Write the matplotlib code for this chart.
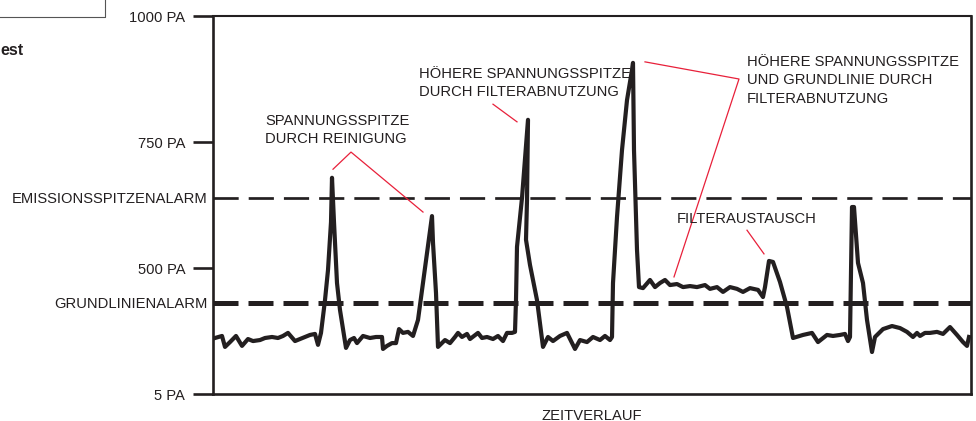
import matplotlib.pyplot as plt
import numpy as np
from matplotlib.lines import Line2D

plt.rcParams['font.family'] = ['Liberation Sans', 'DejaVu Sans']

# --- data -------------------------------------------------------------
pa_ticks = [5, 500, 750, 1000]
pa_labels = ['5 PA', '500 PA', '750 PA', '1000 PA']
alarm_levels = [639, 363]
alarm_labels = ['EMISSIONSSPITZENALARM', 'GRUNDLINIENALARM']

# pressure trace (time units, PA)
t = [2, 9, 12, 17, 23, 29, 35, 40, 47, 52, 59, 65, 70, 75, 82, 87, 97, 102, 105, 108,
     112, 115, 118, 119, 121, 124, 127, 133, 137, 141, 144, 150, 157, 163, 169, 170, 174,
     179, 183, 186, 190, 195, 200, 205, 210, 215, 219, 220, 223, 225, 232, 237, 242, 245,
     249, 254, 257, 261, 265, 269, 274, 280, 285, 290, 294, 299, 302, 303, 304, 309, 315,
     314, 313, 317, 324, 330, 335, 340, 347, 354, 362, 367, 374, 380, 387, 392, 397, 399,
     400, 404, 409, 414, 419, 420, 421, 424, 426, 430, 437, 442, 447, 452, 457, 464, 470,
     477, 484, 492, 497, 504, 510, 517, 524, 530, 537, 545, 550, 552, 556, 560, 567, 574,
     580, 590, 599, 605, 614, 620, 627, 632, 635, 637, 639, 641, 645, 650, 654, 659, 662,
     670, 679, 687, 694, 700, 704, 707, 712, 717, 724, 730, 737, 744, 750, 754, 756]
pa = [225, 233, 190, 209, 233, 194, 221, 213, 217, 225, 229, 225, 233, 245, 213, 221, 237, 241, 198, 245,
      374, 492, 591, 679, 591, 441, 335, 186, 217, 225, 205, 233, 225, 229, 229, 182, 194,
      205, 205, 260, 245, 249, 233, 296, 441, 542, 603, 550, 402, 190, 217, 205, 229, 245,
      229, 241, 221, 233, 245, 225, 229, 221, 233, 213, 245, 245, 249, 374, 542, 639, 794,
      635, 556, 506, 374, 190, 229, 213, 233, 245, 182, 217, 209, 229, 217, 233, 217, 229,
      441, 601, 734, 833, 893, 907, 734, 536, 425, 421, 453, 425, 441, 453, 433, 437, 425,
      429, 425, 433, 418, 425, 406, 425, 418, 406, 421, 414, 386, 425, 514, 512, 445, 347,
      225, 237, 245, 209, 237, 233, 237, 241, 213, 229, 621, 621, 510, 441, 296, 170, 229,
      260, 272, 264, 249, 229, 245, 233, 245, 245, 249, 241, 268, 237, 209, 194, 229]

# annotations: text, text anchor (t, PA), pointer polylines
notes = ['SPANNUNGSSPITZE\nDURCH REINIGUNG',
         'HÖHERE SPANNUNGSSPITZE\nDURCH FILTERABNUTZUNG',
         'HÖHERE SPANNUNGSSPITZE\nUND GRUNDLINIE DURCH\nFILTERABNUTZUNG',
         'FILTERAUSTAUSCH']
note_pos = [(52, 806), (206, 899), (534, 923), (464, 611)]
pointers = [([120, 138, 210], [696, 730, 611]),
            ([280, 304], [825, 790]),
            ([432, 526, 461], [909, 875, 465]),
            ([534, 551], [575, 528])]

ink = '#231f20'
red = '#e8203a'
fs = 10.6

fig = plt.figure(figsize=(9.76, 4.21), dpi=100)
ax = fig.add_axes([213 / 976, 27 / 421, 758 / 976, 378 / 421])

pos = [0, 1, 2, 3]
ax.set_yscale('function', functions=(lambda v: np.interp(v, pa_ticks, pos),
                                     lambda p: np.interp(p, pos, pa_ticks)))
ax.set_ylim(5, 1000)
ax.set_xlim(0, 758)

# alarm lines
ax.axhline(alarm_levels[0], color=ink, lw=1.95, dashes=(9.3, 3.7))
ax.axhline(alarm_levels[1], color=ink, lw=3.6, dashes=(5.0, 2.0))

# trace
ax.plot(t, pa, color=ink, lw=3.0, solid_joinstyle='round')

# annotations
for txt, (x, y) in zip(notes, note_pos):
    ax.text(x, y, txt, fontsize=fs, color=ink, va='top', ha='left', linespacing=1.4)
for xs, ys in pointers:
    ax.plot(xs, ys, color=red, lw=0.9)

# axes styling
for s in ax.spines.values():
    s.set_color(ink)
    s.set_linewidth(1.9)
ax.spines['top'].set_linewidth(1.5)
ax.set_xticks([])
ax.set_yticks(pa_ticks, pa_labels)
ax.set_yticks(alarm_levels, alarm_labels, minor=True)
ax.tick_params(axis='y', which='major', length=14.4, width=1.9, color=ink,
               labelsize=fs, labelcolor=ink, pad=5.5)
ax.tick_params(axis='y', which='minor', length=0, labelsize=fs, labelcolor=ink, pad=4)
ax.set_xlabel('ZEITVERLAUF', fontsize=fs, color=ink, labelpad=10.5)

# leftover pieces of the page at top left
fig.add_artist(Line2D([0, 105 / 976, 105 / 976], [1 - 17 / 421, 1 - 17 / 421, 1.0],
                      color='#555555', lw=0.8))
fig.text(0.5 / 976, 1 - 55 / 421, 'est', fontsize=11.5, fontweight='bold', color=ink)

fig.savefig('out.png', dpi=100)
